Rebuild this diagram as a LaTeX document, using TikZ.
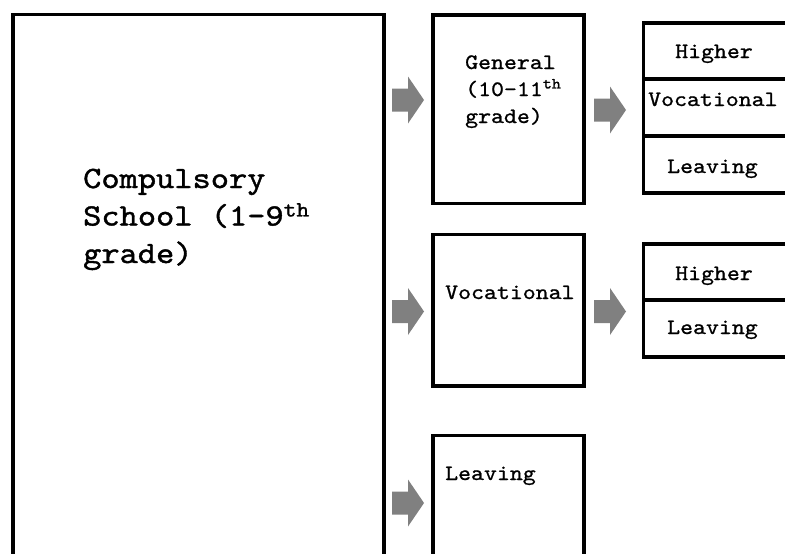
\documentclass[tikz,border=0pt]{standalone}
\usepackage{fontspec}
\newfontfamily\courA{lmmono10-regular}[Extension=.otf,FakeStretch=1.12,FakeBold=0.9]
\newfontfamily\courB{lmmono10-regular}[Extension=.otf,FakeStretch=1.12,FakeBold=1.3]
\begin{document}
\begin{tikzpicture}[x=1pt,y=-1pt,
  box/.style={draw=black,line width=3.6pt,rectangle,inner sep=0pt,fill=white},
  smalltext/.style={inner sep=0pt,anchor=base west,align=left,font=\courA\fontsize{22}{27}\selectfont},
  bigtext/.style={inner sep=0pt,anchor=base west,align=left,font=\courB\fontsize{31}{37.5}\selectfont},
  barrow/.pic={\fill[black!50] (0,-11.5) -- (16,-11.5) -- (16,-23.5) -- (32,0) -- (16,23.5) -- (16,11.5) -- (0,11.5) -- cycle;}
]
\useasboundingbox (0,0) rectangle (785,554);
\fill[white] (0,0) rectangle (785,554);
\clip (0,0) rectangle (785,554);
% boxes
\node[box,minimum width=371pt,minimum height=605pt] (comp) at (198.5,317) {};
\node[box,minimum width=151pt,minimum height=188.5pt] (gen) at (508.5,109.25) {};
\node[box,minimum width=151pt,minimum height=151.5pt] (voc) at (508.5,310.25) {};
\node[box,minimum width=151pt,minimum height=184.5pt] (leave) at (508.5,527.75) {};
\node[box,minimum width=156.5pt,minimum height=56pt] (ga) at (721.75,51) {};
\node[box,minimum width=156.5pt,minimum height=57pt] (gb) at (721.75,107.5) {};
\node[box,minimum width=156.5pt,minimum height=57pt] (gc) at (721.75,164.5) {};
\node[box,minimum width=156.5pt,minimum height=56pt] (va) at (721.75,272) {};
\node[box,minimum width=156.5pt,minimum height=57pt] (vb) at (721.75,328.5) {};
% texts (multi-line nodes: base = last line)
\node[bigtext] (tcomp) at (83,263) {Compulsory\\School (1-9\textsuperscript{th}\\grade)};
\node[smalltext] (tgen) at (465,123) {General\\(10-11\textsuperscript{th}\\grade)};
\node[smalltext] (tvoc) at (445,299) {Vocational};
\node[smalltext] (tleave) at (445,480) {Leaving};
\node[smalltext] (tga) at (675,58) {Higher};
\node[smalltext] (tgb) at (648,106) {Vocational};
\node[smalltext] (tgc) at (667,173) {Leaving};
\node[smalltext] (tva) at (675,280) {Higher};
\node[smalltext] (tvb) at (667,334) {Leaving};
% block arrows
\pic (a1) at (392,100) {barrow};
\pic (a2) at (594,110) {barrow};
\pic (a3) at (392,311.5) {barrow};
\pic (a4) at (594,311.5) {barrow};
\pic (a5) at (392,503) {barrow};
\end{tikzpicture}
\end{document}
